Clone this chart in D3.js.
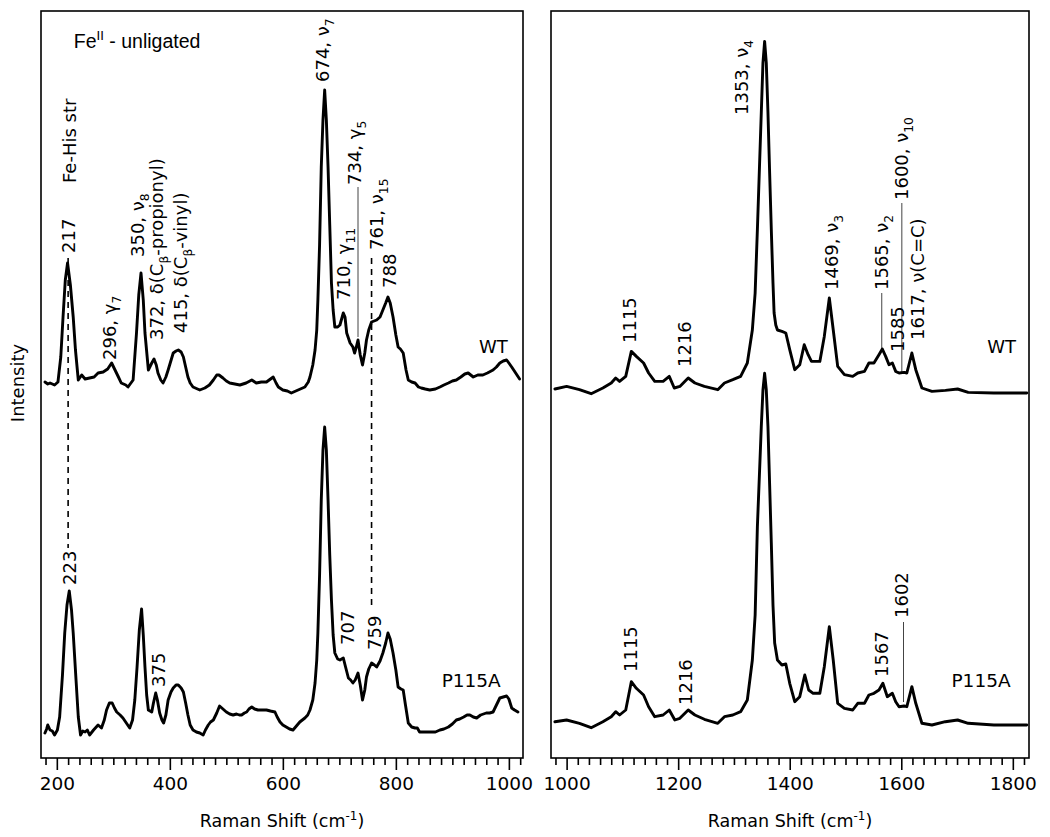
<!DOCTYPE html>
<html><head><meta charset="utf-8">
<script src="https://cdn.jsdelivr.net/npm/d3@7"></script>
<style>body{margin:0;background:#fff}svg{display:block}</style>
</head><body>
<script>
// ---------- data (wavenumber cm-1, relative intensity a.u.) ----------
const leftTicksMajor = [200, 400, 600, 800, 1000];
const rightTicksMajor = [1000, 1200, 1400, 1600, 1800];

const leftWT = [[179,3],[184,1],[188,2],[196,0],[202,3],[207,28],[211,68],[215,105],[219,122],[224,100],[229,68],[233,35],[238,5],[244,10],[250,6],[258,7],[266,8],[273,12],[282,13],[290,16],[297,22],[303,15],[309,8],[314,2],[322,0],[326,-2],[335,5],[341,52],[345,90],[349,112],[353,85],[356,52],[362,15],[368,22],[372,26],[376,20],[379,12],[384,5],[388,2],[393,8],[397,15],[406,32],[411,34],[415,35],[420,33],[424,28],[428,18],[432,8],[436,2],[441,-2],[453,-5],[462,-3],[470,0],[477,5],[483,10],[487,10],[494,7],[500,4],[506,2],[515,1],[524,0],[535,2],[545,5],[553,2],[562,3],[571,3],[583,8],[588,2],[592,-2],[600,-5],[608,-6],[615,-8],[627,-5],[639,-2],[645,3],[648,8],[653,20],[657,35],[660,55],[662,85],[665,140],[668,218],[671,265],[674,295],[677,265],[680,218],[683,160],[686,102],[689,75],[692,58],[697,58],[701,60],[707,72],[710,68],[713,52],[719,42],[724,38],[727,32],[730,38],[733,45],[737,30],[741,20],[745,32],[748,45],[752,55],[757,63],[766,65],[772,68],[777,75],[782,82],[786,88],[790,82],[795,68],[800,50],[804,38],[808,36],[813,32],[818,15],[822,5],[828,3],[834,2],[840,-2],[845,-3],[852,-4],[860,-5],[870,-4],[878,-2],[885,0],[893,2],[900,4],[907,5],[915,8],[922,11],[928,12],[937,8],[945,10],[954,10],[962,12],[972,15],[978,18],[984,22],[990,24],[996,25],[1000,22],[1005,18],[1012,12],[1019,6]];

const leftP115A = [[179,2],[182,6],[184,10],[188,5],[192,4],[196,0],[201,5],[205,18],[210,60],[214,102],[218,130],[222,144],[226,125],[229,102],[234,55],[238,18],[242,0],[246,4],[250,3],[254,5],[258,0],[265,5],[273,10],[279,7],[284,15],[288,25],[293,32],[298,32],[302,27],[306,23],[312,20],[317,17],[323,12],[329,7],[334,15],[338,35],[342,68],[346,105],[350,126],[353,100],[356,68],[359,40],[362,25],[368,23],[371,32],[375,42],[378,35],[382,22],[386,15],[389,12],[393,20],[397,35],[402,43],[406,47],[411,50],[415,50],[420,47],[424,43],[428,32],[432,20],[436,10],[441,5],[447,3],[453,2],[459,0],[463,5],[468,10],[472,13],[477,15],[483,22],[488,29],[494,26],[500,23],[506,21],[512,20],[518,21],[523,20],[527,20],[532,22],[536,23],[540,26],[545,28],[550,26],[556,25],[563,25],[571,25],[578,24],[586,23],[590,18],[595,13],[600,10],[606,8],[612,6],[618,5],[624,9],[630,13],[639,17],[644,20],[648,25],[653,35],[657,52],[660,75],[662,102],[665,160],[668,235],[671,285],[674,308],[677,285],[680,235],[683,180],[686,135],[689,100],[692,82],[697,76],[701,75],[707,77],[711,68],[716,57],[720,55],[724,52],[728,55],[733,62],[737,50],[741,35],[745,45],[748,58],[752,66],[757,72],[762,70],[766,68],[772,74],[777,82],[782,92],[786,102],[790,96],[795,82],[800,65],[804,48],[809,46],[813,45],[817,30],[822,12],[828,8],[834,7],[838,7],[842,3],[850,3],[860,3],[870,3],[878,5],[885,6],[893,8],[900,11],[907,15],[913,16],[920,18],[926,20],[931,20],[937,18],[943,17],[950,20],[960,22],[966,22],[972,23],[978,30],[984,37],[990,38],[996,39],[1000,36],[1005,27],[1010,25],[1016,23]];

const rightWT = [[979,4],[1000,6.6],[1023,3.3],[1044,-0.7],[1065,5],[1080,10],[1088,15],[1095,11.6],[1106,16.6],[1116,41.6],[1125,36.6],[1138,30],[1147,20],[1158,11.6],[1173,11.6],[1184,16.6],[1193,5],[1203,6.6],[1218,15],[1230,10],[1247,6.6],[1271,3.3],[1283,10],[1298,13.3],[1312,16.6],[1324,30],[1333,63],[1338,100],[1342,163],[1346,230],[1349,280],[1352,330],[1355,351.6],[1358,330],[1361,280],[1364,220],[1367,163],[1370,110],[1372,80],[1375,68],[1378,63],[1386,61.6],[1393,60],[1400,43.3],[1409,23.3],[1418,28.3],[1426,48.3],[1433,38.3],[1439,31.6],[1454,31.6],[1462,56.6],[1471,95],[1478,63.3],[1486,26.6],[1498,18.3],[1513,16.6],[1522,20],[1534,21.6],[1542,30],[1551,30],[1560,38.3],[1566,44],[1572,36.6],[1578,28.3],[1584,30],[1590,21.6],[1596,20],[1605,20.6],[1610,20],[1619,40],[1626,23.3],[1637,5],[1655,1.6],[1679,2.6],[1701,4],[1720,0.6],[1766,0],[1825,0]];

const rightP115A = [[979,3.3],[1000,5],[1023,1.7],[1044,-2.7],[1065,3.3],[1080,8.3],[1088,13.3],[1095,10],[1106,15],[1116,43.3],[1125,36.7],[1138,30],[1147,18.3],[1158,8.3],[1173,10],[1184,15],[1194,5],[1203,6.7],[1218,15],[1230,10],[1247,5.7],[1271,1.7],[1283,8.3],[1298,10],[1312,13.3],[1324,25],[1333,65],[1338,110],[1342,198],[1346,255],[1349,298],[1352,335],[1355,351.7],[1358,335],[1361,298],[1364,240],[1367,182],[1370,120],[1373,82],[1378,65],[1386,60],[1393,61],[1400,41.7],[1409,23.3],[1418,28.3],[1427,50],[1434,35],[1442,31.7],[1454,31.7],[1462,58.3],[1471,98.3],[1478,65],[1486,21.7],[1498,16.7],[1513,15],[1522,21.7],[1534,21.7],[1542,30],[1551,31.7],[1560,35],[1567,41.7],[1575,28.3],[1584,31.7],[1590,23.3],[1596,18.3],[1605,19],[1610,18.3],[1619,38.3],[1626,21.7],[1637,1.7],[1655,0],[1679,3.3],[1701,5],[1720,1.7],[1766,0],[1825,0]];

// vertical offsets of the stacked traces
const traceOffsets = {leftWT: 373, leftP115A: 23, rightWT: 365, rightP115A: 33};

// rotated peak labels: [markup, wavenumber, intensity at label start]
const leftPeakLabels = [
  ["Fe-His str", 222, 575], ["217", 221, 505], ["296, γ_{7}", 294, 398],
  ["350, ν_{8}", 342, 501], ["372, δ(C_{β}-propionyl)", 376, 418],
  ["415, δ(C_{β}-vinyl)", 419, 425], ["674, ν_{7}", 670, 676],
  ["710, γ_{11}", 708, 458], ["734, γ_{5}", 726, 573], ["761, ν_{15}", 765, 508],
  ["788", 788, 470], ["223", 223, 173], ["375", 380, 71], ["707", 715, 113], ["759", 763, 108]
];
const rightPeakLabels = [
  ["1115", 1113, 415], ["1216", 1212, 391], ["1353, ν_{4}", 1314, 643],
  ["1469, ν_{3}", 1475, 468], ["1565, ν_{2}", 1564, 468], ["1585", 1593, 406],
  ["1600, ν_{10}", 1601, 558], ["1617, ν(C=C)", 1629, 418],
  ["1115", 1115, 86], ["1216", 1214, 53], ["1567", 1565, 81], ["1602", 1601, 140]
];
// horizontal labels: [markup, wavenumber, intensity, font size, family]
const leftTextLabels = [["Fe^{II} - unligated", 230, 710, 19.5, "'Liberation Sans', Arial, sans-serif"],
  ["WT", 947, 405, 18, null], ["P115A", 881, 71, 18.5, null]];
const rightTextLabels = [["WT", 1754, 405, 18, null], ["P115A", 1690, 71, 18.5, null]];
// thin leader lines [wavenumber, I1, I2]
const leftLeaders = [[733, 571, 421]];
const rightLeaders = [[1565, 465, 408], [1601, 555, 385], [1604, 136, 56]];
// dashed correlation lines [wavenumber, I1, I2]
const leftDashed = [[220, 500, 210], [757, 500, 150]];

// ---------- drawing ----------
const W = 1050, H = 837;
const svg = d3.select("body").append("svg").attr("width", W).attr("height", H)
  .style("font-family", "'DejaVu Sans', sans-serif");

const y = d3.scaleLinear().domain([0, 747]).range([758, 11]);
const panels = [
  {x: d3.scaleLinear().domain([172, 1025]).range([41, 523]), major: leftTicksMajor, minorStep: 20,
   traces: [[leftWT, traceOffsets.leftWT], [leftP115A, traceOffsets.leftP115A]],
   peaks: leftPeakLabels, texts: leftTextLabels, leaders: leftLeaders, dashed: leftDashed},
  {x: d3.scaleLinear().domain([972, 1829]).range([551, 1029]), major: rightTicksMajor, minorStep: 20,
   traces: [[rightWT, traceOffsets.rightWT], [rightP115A, traceOffsets.rightP115A]],
   peaks: rightPeakLabels, texts: rightTextLabels, leaders: rightLeaders, dashed: []}
];

function parseMarkup(s) {
  const out = []; const re = /([_^])\{([^}]*)\}/g; let last = 0, m;
  while ((m = re.exec(s))) {
    if (m.index > last) out.push([s.slice(last, m.index), ""]);
    out.push([m[2], m[1] === "_" ? "sub" : "sup"]);
    last = re.lastIndex;
  }
  if (last < s.length) out.push([s.slice(last), ""]);
  return out;
}
function fillText(t, markup, fs, baseDy) {
  let shift = 0;
  parseMarkup(markup).forEach((seg, i) => {
    const target = seg[1] === "sub" ? fs * 0.28 : seg[1] === "sup" ? -fs * 0.4 : 0;
    const ts = t.append("tspan").text(seg[0])
      .attr("dy", (i === 0 ? baseDy : 0) + (target - shift));
    if (seg[1]) ts.attr("font-size", fs * 0.68);
    shift = target;
  });
}

panels.forEach(p => {
  const x = p.x;
  const [x0, x1] = x.range();
  const g = svg.append("g");
  const clipId = "clip" + x0;
  svg.append("clipPath").attr("id", clipId).append("rect")
    .attr("x", x0).attr("y", 11).attr("width", x1 - x0).attr("height", 747);

  p.dashed.forEach(d => g.append("line").attr("x1", x(d[0])).attr("x2", x(d[0]))
    .attr("y1", y(d[1])).attr("y2", y(d[2])).attr("stroke", "#000").attr("stroke-width", 1.6)
    .attr("stroke-dasharray", "6,5"));
  p.leaders.forEach(d => g.append("line").attr("x1", x(d[0])).attr("x2", x(d[0]))
    .attr("y1", y(d[1])).attr("y2", y(d[2])).attr("stroke", "#444").attr("stroke-width", 1));

  const line = d3.line().x(d => x(d[0])).y(d => y(d[1]));
  p.traces.forEach(([data, off]) => {
    g.append("path").attr("clip-path", `url(#${clipId})`)
      .attr("d", line(data.map(d => [d[0], d[1] + off])))
      .attr("fill", "none").attr("stroke", "#000").attr("stroke-width", 2.9)
      .attr("stroke-linejoin", "round").attr("stroke-linecap", "round");
  });

  g.append("rect").attr("x", x0).attr("y", 11).attr("width", x1 - x0).attr("height", 747)
    .attr("fill", "none").attr("stroke", "#000").attr("stroke-width", 1.6);

  const dom = x.domain();
  const minor = d3.range(Math.ceil(dom[0] / p.minorStep) * p.minorStep, dom[1], p.minorStep)
    .filter(v => !p.major.includes(v));
  const axMinor = d3.axisBottom(x).tickValues(minor).tickSize(7).tickFormat("");
  const axMajor = d3.axisBottom(x).tickValues(p.major).tickSize(12).tickPadding(7).tickFormat(d3.format("d"));
  [axMinor, axMajor].forEach(ax => {
    const a = g.append("g").attr("transform", "translate(0,758)").call(ax);
    a.select(".domain").remove();
    a.selectAll("line").attr("stroke", "#000").attr("stroke-width", 1.6);
    a.selectAll("text").attr("font-size", 18.5).attr("font-family", "'DejaVu Sans', sans-serif").attr("fill", "#000");
  });
  g.append("text").attr("x", (x0 + x1) / 2).attr("y", 827).attr("text-anchor", "middle")
    .attr("font-size", 17.5).call(t => fillText(t, "Raman Shift (cm^{-1})", 17.5, 0));

  p.peaks.forEach(([txt, v, I]) => {
    const t = g.append("text").attr("transform", `translate(${x(v)},${y(I)}) rotate(-90)`)
      .attr("font-size", 18).attr("fill", "#000");
    fillText(t, txt, 18, 6.5);
  });
  p.texts.forEach(([txt, v, I, fs, fam]) => {
    const t = g.append("text").attr("x", x(v)).attr("y", y(I)).attr("font-size", fs).attr("fill", "#000");
    if (fam) t.attr("font-family", fam);
    fillText(t, txt, fs, 0);
  });
});

svg.append("text").attr("transform", "translate(24,383) rotate(-90)").attr("text-anchor", "middle")
  .attr("font-size", 18).text("Intensity");
</script>
</body></html>
